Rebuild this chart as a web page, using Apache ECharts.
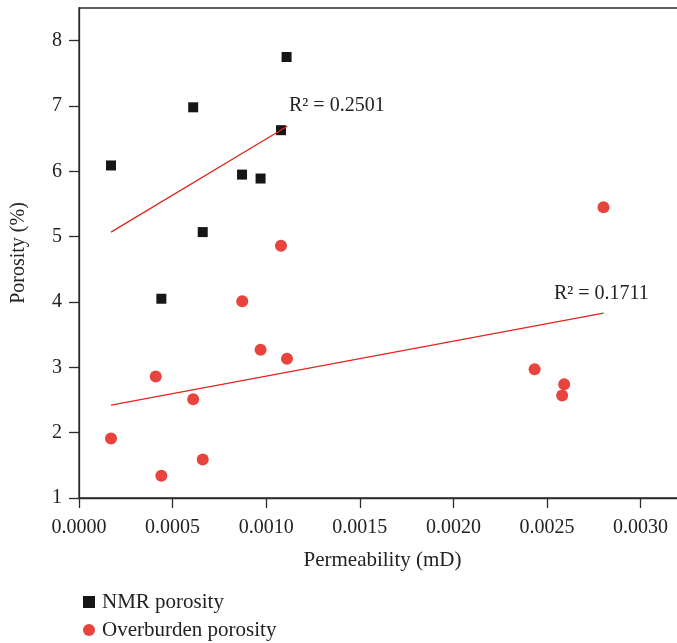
<!DOCTYPE html>
<html>
<head>
<meta charset="utf-8">
<script src="https://cdn.jsdelivr.net/npm/echarts@6/dist/echarts.min.js"></script>
<style>
  html, body { margin: 0; padding: 0; background: #fff; }
  #chart { width: 677px; height: 643px; }
</style>
</head>
<body>
<div id="chart"></div>
<script>
// Permeability (mD) vs porosity (%) for each sample
const nmrPermeability = [0.000171, 0.000610, 0.001109, 0.001079, 0.000871, 0.000970, 0.000661, 0.000440];
const nmrPorosity     = [6.09,     6.98,     7.75,     6.63,     5.95,     5.89,     5.07,     4.05];

const obPermeability = [0.001079, 0.000872, 0.000970, 0.001111, 0.000410, 0.000610, 0.000171, 0.000661, 0.000440, 0.002802, 0.002434, 0.002592, 0.002581];
const obPorosity     = [4.86,     4.01,     3.27,     3.13,     2.86,     2.51,     1.91,     1.59,     1.34,     5.45,     2.97,     2.74,     2.57];

// Linear trend lines: end points [permeability, porosity]
const nmrTrend = [[0.000171, 5.07], [0.001113, 6.69]];
const obTrend  = [[0.000171, 2.42], [0.002802, 3.83]];

// Goodness-of-fit annotations and their anchor points (left edge, vertical centre)
const nmrR2 = 'R² = 0.2501';
const obR2  = 'R² = 0.1711';
const nmrR2Anchor = [0.001122, 7.0];
const obR2Anchor  = [0.002537, 4.13];

// Axis ticks
const xTicks = [0, 0.0005, 0.0010, 0.0015, 0.0020, 0.0025, 0.0030];
const yTicks = [1, 2, 3, 4, 5, 6, 7, 8];

const seriesNames = ['NMR porosity', 'Overburden porosity'];

const FONT = '"Liberation Serif", "DejaVu Serif", serif';
const AXIS_COLOR = '#2b2b2b';
const TEXT_COLOR = '#222';
const BLACK = '#161616';
const RED = '#E8433D';
const LINE_RED = '#E3261C';

const zip = (a, b) => a.map((v, i) => [v, b[i]]);

const chart = echarts.init(document.getElementById('chart'), null, { renderer: 'canvas' });

chart.setOption({
  animation: false,
  backgroundColor: '#fff',
  textStyle: { fontFamily: FONT },
  grid: {
    left: 79, top: 8, width: 599, height: 490,
    containLabel: false,
    outerBoundsMode: 'none',
    show: true, borderColor: AXIS_COLOR, borderWidth: 1.3, backgroundColor: 'transparent'
  },
  legend: {
    orient: 'vertical',
    left: 78, top: 586,
    height: 100,
    itemWidth: 12, itemHeight: 12,
    itemGap: 6,
    data: [
      { name: seriesNames[0], icon: 'rect', itemStyle: { color: BLACK } },
      { name: seriesNames[1], icon: 'circle', itemStyle: { color: RED } }
    ],
    textStyle: { fontFamily: FONT, fontSize: 21, color: TEXT_COLOR, lineHeight: 22, padding: [0, 0, 0, 2] },
    itemStyle: { borderWidth: 0 }
  },
  xAxis: {
    type: 'value',
    min: 0, max: 0.0032,
    interval: 0.0005,
    name: 'Permeability (mD)',
    nameLocation: 'middle',
    nameGap: 52,
    nameTextStyle: { fontFamily: FONT, fontSize: 21, color: TEXT_COLOR, padding: [0, 0, 0, 8] },
    splitLine: { show: false },
    axisLine: { lineStyle: { color: AXIS_COLOR, width: 1.3 } },
    axisTick: { show: true, inside: false, length: 10, customValues: xTicks, lineStyle: { color: AXIS_COLOR, width: 1.3 } },
    axisLabel: {
      customValues: xTicks,
      formatter: v => v.toFixed(4),
      fontFamily: FONT, fontSize: 20, color: TEXT_COLOR, margin: 20
    }
  },
  yAxis: {
    type: 'value',
    min: 1, max: 8.5,
    interval: 1,
    name: 'Porosity (%)',
    nameLocation: 'middle',
    nameGap: 50,
    nameTextStyle: { fontFamily: FONT, fontSize: 20, color: TEXT_COLOR },
    splitLine: { show: false },
    axisLine: { lineStyle: { color: AXIS_COLOR, width: 1.3 } },
    axisTick: { show: true, inside: false, length: 10, customValues: yTicks, lineStyle: { color: AXIS_COLOR, width: 1.3 } },
    axisLabel: {
      customValues: yTicks,
      formatter: v => String(v),
      fontFamily: FONT, fontSize: 20, color: TEXT_COLOR, margin: 17
    }
  },
  series: [
    {
      name: seriesNames[0],
      type: 'scatter',
      symbol: 'rect',
      symbolSize: 10,
      itemStyle: { color: BLACK, opacity: 1 },
      data: zip(nmrPermeability, nmrPorosity),
      z: 2
    },
    {
      name: seriesNames[1],
      type: 'scatter',
      symbol: 'circle',
      symbolSize: 12,
      itemStyle: { color: RED, opacity: 1 },
      data: zip(obPermeability, obPorosity),
      z: 2
    },
    {
      name: 'NMR trend',
      type: 'line',
      symbol: 'none',
      silent: true,
      lineStyle: { color: LINE_RED, width: 1.3 },
      data: nmrTrend,
      z: 3
    },
    {
      name: 'Overburden trend',
      type: 'line',
      symbol: 'none',
      silent: true,
      lineStyle: { color: LINE_RED, width: 1.3 },
      data: obTrend,
      z: 3
    }
  ]
});

// Place the R² annotations at their data positions
function placeAnnotations() {
  const items = [[nmrR2, nmrR2Anchor], [obR2, obR2Anchor]].map(([text, anchor]) => {
    const p = chart.convertToPixel({ gridIndex: 0 }, anchor);
    return {
      type: 'text',
      x: p[0], y: p[1],
      style: {
        text: text,
        fontFamily: FONT, fontSize: 20, fill: TEXT_COLOR,
        align: 'left', verticalAlign: 'middle'
      },
      z: 10
    };
  });
  chart.setOption({ graphic: items });
}
placeAnnotations();
</script>
</body>
</html>
